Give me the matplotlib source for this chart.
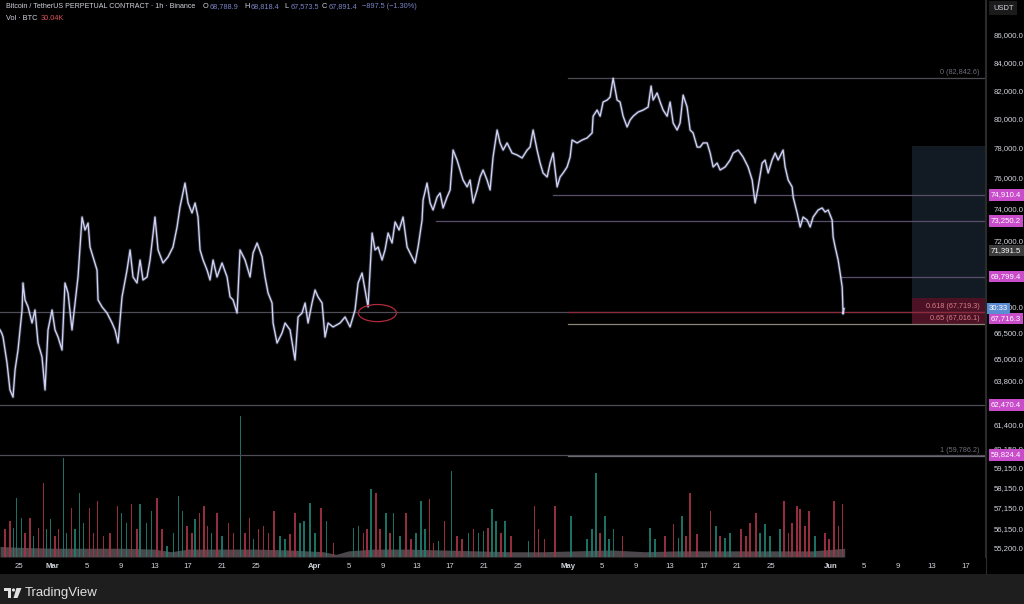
import matplotlib
matplotlib.use("Agg")
import matplotlib.pyplot as plt
from matplotlib.patches import Rectangle, Ellipse, Polygon
from matplotlib.lines import Line2D
from matplotlib.ticker import NullLocator, NullFormatter
import numpy as np

plt.rcParams['font.family'] = ['Liberation Sans', 'DejaVu Sans']

# BTCUSDT perp, 1h -- price path, days counted from 25 Feb
day = [-2.25, -2.05, -1.89, -1.42, -1.07, -0.71, -0.47, -0.12, 0.36, 0.47, 0.71, 1.07, 1.54, 1.89,
       2.25, 2.72, 3.08, 3.43, 3.91, 4.26, 4.62, 5.09, 5.44, 5.80, 6.27, 6.63, 6.98, 7.46, 7.81,
       8.17, 8.40, 8.76, 9.23, 9.35, 9.82, 10.41, 11.01, 11.36, 11.72, 12.19, 12.78, 13.14, 13.49,
       13.96, 14.32, 14.67, 15.15, 15.50, 16.09, 16.45, 17.04, 17.63, 18.22, 18.70, 19.05, 19.64,
       20.00, 20.47, 20.83, 21.18, 21.42, 21.78, 22.25, 22.60, 22.96, 23.43, 24.02, 24.62, 24.97,
       25.33, 25.80, 26.15, 26.75, 27.34, 27.69, 28.17, 28.76, 29.11, 29.47, 29.94, 30.06, 30.53,
       31.12, 31.48, 32.07, 32.66, 33.02, 33.49, 33.85, 34.20, 34.67, 35.03, 35.38, 35.86, 36.21,
       36.57, 37.16, 37.99, 38.58, 39.17, 39.76, 40.12, 40.59, 40.95, 41.30, 41.78, 42.13, 42.49,
       42.96, 43.31, 43.67, 44.14, 44.50, 44.97, 45.44, 45.92, 46.51, 46.86, 47.22, 47.69, 47.81,
       48.28, 48.64, 48.99, 49.47, 49.82, 50.18, 50.65, 51.01, 51.36, 51.83, 52.19, 52.54, 53.02,
       53.37, 53.73, 54.20, 54.56, 54.91, 55.38, 55.74, 56.09, 56.57, 56.92, 57.28, 57.75, 58.34,
       58.93, 59.53, 60.12, 60.47, 60.83, 61.30, 61.66, 62.01, 62.49, 62.84, 63.20, 63.67, 64.02,
       64.38, 64.85, 65.21, 65.44, 66.04, 66.63, 67.22, 67.81, 67.93, 68.40, 68.76, 69.11, 69.59,
       69.94, 70.30, 70.77, 71.12, 71.48, 71.95, 72.31, 72.66, 73.25, 73.85, 74.44, 74.79, 75.03,
       75.50, 75.86, 76.21, 76.69, 77.04, 77.40, 77.87, 78.22, 78.58, 79.05, 79.41, 79.76, 80.24,
       80.59, 80.95, 81.42, 81.78, 82.13, 82.60, 82.96, 83.55, 84.14, 84.50, 85.09, 85.68, 86.27,
       86.75, 87.10, 87.46, 87.93, 88.28, 88.64, 89.11, 89.47, 89.82, 90.41, 90.65, 91.01, 91.48,
       91.60, 92.07, 92.43, 92.78, 93.25, 93.61, 93.96, 94.56, 95.03, 95.38, 95.74, 96.21, 96.33,
       96.57, 96.92, 97.16, 97.40, 97.51, 97.62]
price = [66650, 66470, 66240, 64770, 63280, 62890, 64380, 65500, 67810, 69410, 68400, 67990, 67050, 67810,
         65900, 65110, 63280, 66650, 67810, 66650, 66240, 65500, 69410, 68810, 66650, 68220, 69770, 73480, 72660,
         73100, 71600, 70990, 70190, 68400, 67990, 67630, 67050, 66650, 65900, 68580, 70190, 71420, 69770,
         69410, 70800, 69590, 69770, 70800, 73480, 71420, 70620, 70990, 71600, 72850, 74120, 75670,
         74380, 73740, 74380, 73480, 71420, 70800, 70190, 69590, 70800, 69770, 70620, 69770, 68580,
         68400, 67630, 71420, 70800, 69770, 71230, 71850, 70990, 69770, 68810, 68220, 67050, 65900,
         66470, 67050, 66650, 64940, 67400, 67630, 68220, 67050, 68220, 68990, 68580, 68220, 66240,
         67050, 66820, 67050, 67400, 66820, 67810, 69410, 70010, 68990, 67990, 72470, 71420, 71600,
         70800, 71420, 72470, 71850, 73170, 72660, 73480, 71600, 70990, 70620, 71600, 73290, 74570,
         75670, 74380, 73930, 74760, 75020, 74060, 74760, 75220, 77860, 77190, 76530, 75870, 75420,
         75870, 74380, 75220, 76070, 76530, 75870, 75220, 77390, 79220, 78340, 77860, 78340, 77660,
         77530, 77330, 77860, 78060, 79220, 77860, 76990, 76330, 76070, 76990, 77660, 75420, 76070,
         76330, 76730, 77390, 78540, 78340, 78540, 78680, 79020, 80170, 80600, 80170, 81160, 81300,
         81510, 82842.6, 81300, 81160, 80170, 79430, 79910, 80170, 80460, 80600, 80810, 82290, 81300,
         81800, 81160, 80600, 80170, 81160, 79700, 79220, 79700, 81650, 80810, 79220, 79020, 78060,
         78060, 78340, 78340, 77660, 76730, 76990, 76530, 76730, 77190, 77660, 77860, 77390, 76730,
         75870, 74380, 75420, 76990, 77190, 76330, 77190, 77660, 77190, 77860, 76730, 75870, 75420,
         74760, 73740, 72850, 73480, 73290, 72850, 73480, 73930, 74060, 73800, 73930, 73290, 72220,
         71600, 70800, 70010, 69170, 67573.5, 67891.4]

# volume spikes (thousand BTC) and the low background level
vol_day = [-1.66, -1.07, -0.67, -0.28, 0.32, 0.71, 1.30, 1.70, 2.29, 2.88, 3.27, 3.75, 4.26, 4.66, 5.25,
           5.64, 6.23, 6.63, 7.14, 7.61, 8.33, 8.80, 9.27, 9.98, 10.77, 11.64, 12.15, 12.74, 13.33,
           13.93, 14.32, 15.11, 15.70, 16.30, 16.89, 17.48, 18.26, 18.85, 19.37, 19.85, 20.44, 20.83,
           21.34, 21.89, 22.29, 22.80, 23.40, 23.99, 24.77, 25.36, 26.23, 26.75, 27.26, 27.73, 28.32,
           28.91, 29.51, 30.18, 30.89, 31.48, 32.07, 32.66, 33.25, 33.73, 34.44, 35.03, 35.74, 36.41,
           37.20, 39.57, 40.16, 40.75, 41.15, 41.66, 42.25, 42.72, 43.43, 43.91, 44.30, 45.09, 45.80,
           46.36, 46.98, 47.54, 48.05, 48.56, 49.03, 49.62, 50.33, 51.20, 51.80, 52.39, 53.17, 53.77,
           54.36, 54.95, 55.47, 55.94, 56.41, 57.04, 57.51, 58.22, 60.27, 60.98, 61.46, 62.17, 63.43,
           65.33, 67.18, 67.77, 68.25, 68.76, 69.35, 69.82, 70.33, 71.40, 74.67, 75.27, 76.45, 77.44,
           78.02, 78.42, 78.90, 79.41, 80.20, 81.81, 82.45, 82.96, 83.55, 84.14, 85.44, 86.00, 86.51,
           87.18, 87.69, 88.28, 88.88, 90.06, 90.49, 91.05, 91.44, 92.04, 92.43, 93.02, 93.49, 94.20,
           95.38, 95.86, 96.41, 96.96, 97.43]
vol_k = [15.7, 20.4, 16.6, 33.6, 22.3, 13.8, 22.3, 11.9, 16.6, 42.1, 15.7, 21.4, 11.9, 15.7, 56.3,
         13.8, 28.0, 15.7, 36.5, 19.5, 28.0, 13.8, 31.8, 11.9, 13.8, 28.9, 25.1, 19.5, 29.9,
         15.7, 29.9, 19.5, 26.1, 33.6, 15.7, 6.2, 13.8, 34.6, 26.1, 17.6, 13.8, 21.4,
         25.1, 28.9, 17.6, 13.8, 25.1, 11.9, 19.5, 13.8, 80.0, 13.8, 22.3, 10.0, 15.7,
         17.6, 13.8, 26.1, 11.9, 10.0, 12.9, 25.1, 19.5, 20.4, 30.8, 13.8, 28.0, 20.4,
         8.1, 16.6, 17.6, 13.8, 15.7, 38.4, 36.5, 15.7, 25.1, 13.8, 25.1, 11.9, 25.1,
         10.0, 13.8, 31.8, 15.7, 32.7, 8.1, 9.1, 20.4, 48.8, 11.9, 10.0, 13.8, 15.7,
         13.8, 14.7, 16.6, 27.0, 20.4, 13.8, 20.4, 11.9, 9.1, 28.9, 15.7, 10.0, 28.9,
         23.2, 10.0, 15.7, 47.8, 13.8, 23.2, 10.0, 15.7, 11.9, 16.6, 10.0, 11.9, 18.5,
         11.0, 23.2, 11.9, 36.5, 12.9, 26.1, 17.6, 11.9, 11.0, 13.8, 15.7, 11.9, 19.5,
         25.1, 13.8, 18.5, 11.9, 15.7, 31.8, 13.8, 19.5, 28.9, 27.0, 17.6, 26.1, 11.9,
         13.8, 10.0, 31.8, 17.6, 30.04]
floor_day = [-2.25, 0, 4, 8, 12, 16, 18, 20, 24, 28, 32, 36, 37.5, 39, 42, 46, 50, 54, 58, 62, 66,
             70, 74, 78, 82, 86, 90, 94, 97.7]
floor_k = [6, 5.5, 5, 5, 5, 4.5, 3, 4.5, 4.5, 4.5, 4, 3, 1.5, 3.5, 4.5, 4.5, 4, 3.5, 3, 3, 3.5,
           4, 3, 3.5, 3.5, 3.5, 3.5, 3.5, 5]

tick_days = [0, 4, 8, 12, 16, 20, 24, 28, 35, 39, 43, 47, 51, 55, 59, 65, 69, 73, 77, 81, 85, 89,
             96, 100, 104, 108, 112]
tick_labels = ['25', 'Mar', '5', '9', '13', '17', '21', '25', 'Apr', '5', '9', '13', '17', '21', '25',
               'May', '5', '9', '13', '17', '21', '25', 'Jun', '5', '9', '13', '17']
price_ticks = [86000, 84000, 82000, 80000, 78000, 76000, 74000, 72000, 70000, 68000, 66500, 65000,
               63800, 61400, 60150, 59150, 58150, 57150, 56150, 55200]

# horizontal levels drawn on the chart: (price, start day)
levels = [(74910.4, 63.2), (73250.2, 49.35), (69799.4, 97.3), (67716.3, -2.25),
          (62470.4, -2.25), (59824.4, -2.25)]
fib_start = 65.0
fib = [('0', 82842.6), ('0.618', 67719.3), ('0.65', 67016.1), ('1', 59786.2)]
pos_start = 105.7
pos_target, pos_entry, pos_stop = 78134, 68514, 67016.1
last_close = 67891.4

W, H = 1024, 604
XMIN, XMAX = -2.25, 114.3
YMIN, YMAX = 54772, 88643


def fx(px):
    return px / W


def fy(py):
    return 1 - py / H


fig = plt.figure(figsize=(W / 100, H / 100), dpi=100, facecolor='black')
rect = [0, fy(557), 985 / W, 557 / H]

# volume pane underneath
vax = fig.add_axes(rect)
vax.set_facecolor('black')
vax.set_xlim(XMIN, XMAX)
vax.set_ylim(0, 316)
vax.axis('off')
vd = np.array(vol_day)
up = np.interp(vd, day, price) >= np.interp(vd - 0.25, day, price)
vcol = np.where(up, '#1f7d6f', '#a53446')
vax.fill_between(floor_day, floor_k, color='#4b4649', lw=0)
vax.bar(vd, vol_k, width=0.18, color=vcol, lw=0, alpha=0.9)

ax = fig.add_axes(rect)
ax.patch.set_alpha(0)
ax.set_yscale('log')
ax.set_xlim(XMIN, XMAX)
ax.set_ylim(YMIN, YMAX)

# long position box
ax.add_patch(Rectangle((pos_start, pos_entry), XMAX - pos_start, pos_target - pos_entry,
                       fc='#121b24', ec='none', zorder=0.5))
ax.add_patch(Rectangle((pos_start, pos_stop), XMAX - pos_start, pos_entry - pos_stop,
                       fc='#4c1124', ec='none', zorder=0.5))

for p, x0 in levels:
    c = '#5a4f6a' if x0 > 0 else '#4f4b57'
    ax.plot([x0, XMAX], [p, p], color=c, lw=0.9, zorder=1)

fib_cols = {'0': '#4c4c54', '0.618': '#8e2a3c', '0.65': '#8a8578', '1': '#6a6a72'}
for name, p in fib:
    ax.plot([fib_start, XMAX], [p, p], color=fib_cols[name], lw=0.9, zorder=1.1)
    tc = '#d9808a' if name in ('0.618', '0.65') else '#6e6e78'
    ax.annotate(f'{name} ({p:,.1f})', xy=(113.7, p), xytext=(0, 2), textcoords='offset pixels',
                ha='right', va='bottom', fontsize=5.2, color=tc, zorder=3)

# soft halo mimics the hourly wicks, then the close path on top
ax.plot(day, price, color='#c9cdf3', lw=2.2, alpha=0.25, zorder=2)
ax.plot(day, price, color='#cfd3f6', lw=0.95, zorder=2.1)

ax.add_patch(Ellipse((42.4, 67630), 4.5, 1000, fill=False, ec='#b02a3c', lw=0.9, zorder=2.2))

for s in ['top', 'left', 'bottom']:
    ax.spines[s].set_visible(False)
ax.spines['right'].set_color('#2b2b2b')

ax.set_xticks(tick_days)
ax.set_xticklabels(tick_labels)
ax.tick_params(axis='x', length=0, pad=4, labelsize=5.6, labelcolor='#d1d4dc')
for t in ax.get_xticklabels():
    if not t.get_text().isdigit():
        t.set_fontweight('bold')

ax.yaxis.tick_right()
ax.set_yticks(price_ticks)
ax.set_yticklabels([f'{v:,.1f}' for v in price_ticks])
ax.yaxis.set_minor_locator(NullLocator())
ax.yaxis.set_minor_formatter(NullFormatter())
ax.tick_params(axis='y', length=0, pad=6, labelsize=5.6, labelcolor='#d1d4dc')

ytr = ax.get_yaxis_transform()


def price_tag(p, text, fc, dy=0, dx=6):
    ax.annotate(text, xy=(1.0, p), xycoords=ytr, xytext=(dx, dy), textcoords='offset pixels',
                ha='left', va='center', fontsize=5.6, color='white', annotation_clip=False,
                bbox=dict(boxstyle='square,pad=0.3', fc=fc, ec='none'), zorder=5)


for p, _ in levels:
    price_tag(p, f'{p:,.1f}', '#c94ccb', dy=-7 if p == 67716.3 else 0)
price_tag(71391.5, '71,391.5', '#3b3b3b')
price_tag(last_close, '30:33', '#5b8bd0', dx=4)

# header
fig.text(fx(6), fy(7), 'Bitcoin / TetherUS PERPETUAL CONTRACT · 1h · Binance', fontsize=5.15,
         color='#d1d4dc', va='center')
ohlc = [('O', '68,788.9', 203), ('H', '68,818.4', 244), ('L', '67,573.5', 284), ('C', '67,891.4', 322)]
for k, v, px in ohlc:
    fig.text(fx(px), fy(7), k, fontsize=5.3, color='#d1d4dc', va='center')
    fig.text(fx(px + 6.5), fy(7), v, fontsize=5.3, color='#7a84c6', va='center')
fig.text(fx(362), fy(7), '−897.5 (−1.30%)', fontsize=5.3, color='#7a84c6', va='center')
fig.text(fx(6), fy(18), 'Vol · BTC', fontsize=5.3, color='#d1d4dc', va='center')
fig.text(fx(41), fy(18), '30.04K', fontsize=5.3, color='#e0505a', va='center')

fig.text(fx(993), fy(8), 'USDT', fontsize=5.4, color='#d1d4dc', va='center',
         bbox=dict(boxstyle='square,pad=0.5', fc='#1b1b1b', ec='none'))

fig.add_artist(Line2D([fx(985.5)] * 2, [fy(574), 1], color='#2b2b2b', lw=0.8))

# bottom branding band
fig.add_artist(Rectangle((0, 0), 1, 30 / H, transform=fig.transFigure, fc='#1e1e1e', ec='none'))
fig.add_artist(Rectangle((fx(4), fy(591)), 7 / W, 3 / H, transform=fig.transFigure, fc='#e0e0e0', ec='none'))
fig.add_artist(Rectangle((fx(8), fy(598)), 3 / W, 10 / H, transform=fig.transFigure, fc='#e0e0e0', ec='none'))
fig.add_artist(Ellipse((fx(13.5), fy(590)), 3.2 / W, 3.2 / H, transform=fig.transFigure, fc='#e0e0e0', ec='none'))
fig.add_artist(Polygon([(fx(16.5), fy(588)), (fx(21.5), fy(588)), (fx(17.5), fy(598)), (fx(13.5), fy(598))],
                       closed=True, transform=fig.transFigure, fc='#e0e0e0', ec='none'))
fig.text(fx(25), fy(593), 'TradingView', fontsize=9.5, color='#e0e0e0', va='center')

fig.savefig('out.png', dpi=100, facecolor='black')
